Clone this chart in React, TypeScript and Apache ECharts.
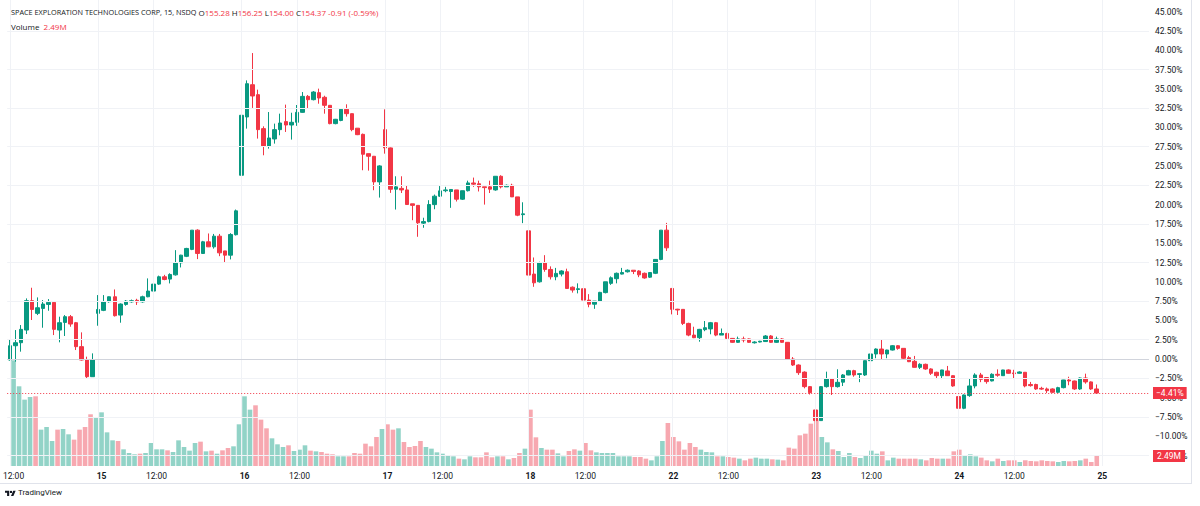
import React, { useEffect, useRef } from "react";
import * as echarts from "echarts";

// ---------- data ----------
const days = ["14", "15", "16", "17", "18", "22", "23", "24"];
const sessionTimes = [
  "09:30", "09:45", "10:00", "10:15", "10:30", "10:45", "11:00", "11:15", "11:30", "11:45",
  "12:00", "12:15", "12:30", "12:45", "13:00", "13:15", "13:30", "13:45", "14:00", "14:15",
  "14:30", "14:45", "15:00", "15:15", "15:30", "15:45",
];
const firstDayStart = "12:00";
const futureDay = "25";
const futureBars = 9;

// percent change vs. first bar (price scale in %)
const opens = [
  -0.13, 1.72, 2.11, 3.75, 7.55, 5.91, 6.55, 7.07, 7.33, 3.75, 4.74, 5.48, 4.7, 1.6, -0.13, -2.29,
  5.91, 6.3, 7.42, 8.06, 5.69, 7.07, 7.4, 7.6, 7.4, 8.06, 8.8, 9.7, 10.65, 10.35, 10.9, 12.46, 13.3, 14.2, 16.69, 13.67, 15.18, 14.53, 15.91, 14.0, 13.45, 16.1,
  23.8, 31.35, 35.53, 34.24, 29.84, 27.6, 28.5, 29.71, 30.75, 30.31, 30.66, 31.95, 34.02, 33.59, 34.5, 33.9, 32.86, 30.49, 30.9, 32.34, 31.78, 29.9, 29.1, 26.6, 26.26, 22.94,
  29.71, 27.34, 22.0, 22.1, 21.9, 20.1, 19.9, 17.6, 17.8, 20.0, 21.09, 21.8, 21.7, 21.9, 20.7, 21.8, 22.8, 22.7, 22.3, 22.3, 21.9, 23.67, 22.3, 22.5, 21.0, 18.7,
  16.6, 11.0, 10.0, 12.46, 11.6, 10.65, 11.0, 11.3, 9.3, 9.0, 9.1, 7.63, 7.1, 7.5, 8.6, 9.8, 10.4, 11.0, 11.3, 11.5, 11.4, 11.1, 10.6, 11.1, 12.9, 16.69,
  9.14, 6.45, 6.43, 4.61, 3.1, 2.76, 3.8, 3.9, 4.7, 3.1, 3.3, 2.67, 2.16, 2.6, 2.6, 2.1, 2.2, 2.26, 2.98, 2.16, 2.6, 2.16, 0.0, -0.78, -1.7, -3.58,
  -6.6, -7.98, -3.58, -2.59, -3.58, -3.0, -2.07, -1.51, -2.0, -2.07, -0.22, 0.65, 1.29, 0.65, 1.16, 1.72, 1.38, 0.17, -0.3, -1.08, -0.69, -1.29, -1.72, -2.16, -1.55, -2.16,
  -4.87, -6.38, -4.74, -3.49, -2.07, -2.4, -2.84, -1.98, -2.16, -1.42, -1.8, -1.85, -1.72, -3.3, -3.3, -3.8, -3.88, -3.88, -4.31, -3.71, -2.72, -2.85, -3.88, -2.46, -2.97, -3.88,
];
const closes = [
  1.72, 2.11, 3.84, 7.55, 6.42, 6.64, 7.12, 7.33, 3.84, 4.7, 5.48, 4.53, 1.6, -0.13, -2.29, -0.13,
  6.42, 7.42, 8.06, 5.61, 7.12, 7.5, 7.55, 7.4, 8.06, 8.8, 9.7, 10.65, 10.3, 10.95, 12.46, 13.45, 14.32, 16.69, 13.67, 15.18, 14.53, 15.91, 13.75, 13.45, 16.13, 19.19,
  31.57, 35.66, 34.07, 29.71, 27.6, 28.63, 29.71, 30.57, 30.31, 30.66, 31.95, 34.02, 33.59, 34.58, 33.81, 32.86, 30.49, 31.05, 32.34, 31.78, 29.71, 29.06, 26.52, 26.26, 22.94, 25.01,
  27.34, 21.99, 22.3, 21.9, 20.01, 19.9, 17.64, 17.8, 20.01, 21.09, 21.78, 21.9, 21.96, 20.7, 21.8, 22.81, 22.65, 22.3, 22.2, 22.0, 23.67, 22.3, 22.5, 21.0, 18.63, 18.8,
  10.87, 9.87, 12.46, 11.6, 10.65, 11.09, 11.4, 9.14, 8.93, 9.1, 7.63, 7.1, 7.5, 8.63, 10.0, 10.52, 11.1, 11.2, 11.5, 11.35, 10.9, 10.5, 11.2, 12.9, 16.69, 14.4,
  6.43, 6.35, 4.61, 3.1, 2.76, 3.84, 4.05, 4.7, 3.1, 3.3, 2.67, 2.16, 2.6, 2.46, 2.16, 2.2, 2.3, 2.98, 2.16, 2.6, 2.16, 0.0, -0.78, -1.77, -3.58, -4.36,
  -7.98, -3.58, -2.59, -3.58, -3.02, -2.07, -1.51, -2.07, -1.9, -0.22, 0.65, 1.29, 0.65, 1.16, 1.72, 1.38, 0.09, -0.35, -1.08, -0.69, -1.29, -1.85, -2.16, -1.42, -2.16, -3.49,
  -6.38, -4.66, -3.49, -2.07, -2.63, -2.93, -1.98, -2.1, -1.42, -1.85, -1.9, -1.68, -3.49, -3.45, -3.88, -3.9, -4.1, -4.31, -3.71, -2.72, -2.85, -3.88, -2.46, -2.97, -3.88, -4.41,
];
const lows = [
  -0.2, -0.35, 0.95, 3.23, 5.05, 5.69, 4.05, 6.25, 3.1, 2.16, 2.98, 4.18, 1.16, -0.2, -2.5, -2.3,
  4.31, 6.2, 7.3, 5.5, 4.7, 6.9, 7.3, 7.0, 7.3, 8.0, 7.63, 9.6, 10.2, 9.79, 10.8, 11.86, 13.2, 14.1, 12.94, 13.6, 14.5, 14.3, 13.32, 12.5, 12.9, 16.0,
  23.7, 29.84, 32.52, 28.55, 26.39, 27.25, 27.9, 28.98, 29.41, 28.42, 30.2, 31.9, 32.43, 33.5, 33.07, 31.78, 30.4, 30.4, 30.8, 31.4, 29.5, 29.0, 24.45, 24.4, 21.86, 20.91,
  26.6, 21.52, 19.36, 21.5, 20.0, 17.98, 15.83, 17.0, 17.7, 19.4, 21.0, 21.6, 19.58, 20.4, 20.6, 21.7, 22.3, 21.7, 20.0, 21.5, 21.8, 22.1, 22.3, 21.0, 18.5, 17.6,
  10.0, 9.35, 9.9, 11.3, 10.3, 10.2, 10.7, 9.1, 8.6, 8.5, 6.77, 6.7, 6.5, 7.4, 8.5, 9.6, 9.8, 10.95, 11.2, 11.0, 10.6, 10.4, 10.5, 11.0, 12.8, 14.0,
  5.78, 5.7, 4.4, 2.95, 2.7, 2.24, 3.6, 3.2, 2.95, 3.1, 2.6, 2.1, 2.1, 2.16, 2.1, 2.0, 2.15, 2.2, 2.1, 2.1, 2.1, -0.1, -0.9, -2.06, -3.8, -4.6,
  -8.76, -8.0, -3.7, -4.66, -3.7, -3.5, -2.1, -2.3, -3.0, -2.2, -0.8, 0.1, 0.0, 0.1, 1.1, 1.2, 0.0, -0.4, -1.1, -1.3, -1.4, -2.07, -2.6, -2.6, -2.2, -3.6,
  -6.69, -6.5, -4.9, -3.8, -3.0, -3.2, -2.9, -2.3, -2.2, -1.9, -2.6, -1.9, -3.67, -3.58, -4.0, -4.0, -4.4, -4.4, -4.4, -3.8, -3.4, -4.0, -4.0, -3.2, -4.0, -4.5,
];
const highs = [
  2.46, 3.75, 4.4, 7.85, 9.23, 7.98, 7.63, 7.76, 7.4, 5.48, 5.69, 5.7, 4.8, 3.45, 0.3, 0.73,
  8.28, 8.28, 8.1, 9.01, 7.2, 7.63, 7.7, 7.8, 8.2, 10.44, 9.75, 10.8, 10.9, 11.1, 14.1, 13.5, 14.4, 16.7, 16.8, 15.3, 16.26, 16.2, 16.2, 14.0, 16.3, 19.36,
  32.86, 36.09, 39.63, 34.89, 30.14, 31.99, 30.49, 31.78, 32.95, 31.9, 32.9, 34.58, 34.2, 34.7, 35.02, 34.1, 32.9, 31.1, 32.4, 32.99, 31.8, 29.9, 29.2, 26.6, 26.3, 25.1,
  32.34, 27.4, 23.67, 23.67, 22.5, 20.1, 19.9, 18.3, 20.57, 21.3, 22.4, 22.3, 22.0, 21.9, 21.8, 23.1, 23.5, 23.1, 22.3, 23.1, 23.7, 23.8, 22.6, 22.7, 21.0, 20.3,
  16.6, 13.15, 12.6, 13.45, 12.0, 11.8, 11.5, 11.7, 9.4, 9.8, 9.2, 8.4, 7.5, 8.7, 10.0, 10.7, 11.2, 11.8, 11.6, 11.5, 11.5, 11.2, 11.2, 12.95, 16.7, 17.63,
  9.2, 6.5, 6.43, 4.7, 4.18, 3.9, 4.92, 4.8, 4.8, 3.95, 3.4, 2.7, 2.9, 2.9, 2.65, 2.3, 2.35, 3.1, 3.1, 2.9, 2.7, 2.2, 0.25, -0.7, -1.6, -3.5,
  -4.44, -3.5, -1.64, -2.5, -1.33, -1.95, -1.4, -1.4, -1.85, -0.2, 1.38, 1.38, 2.46, 1.2, 1.8, 1.8, 1.4, 0.4, 0.4, -0.55, -0.6, -1.2, -1.65, -1.4, -0.9, -2.1,
  -3.36, -4.6, -2.5, -1.85, -1.8, -2.4, -1.85, -1.34, -1.4, -1.34, -1.4, -1.6, -1.7, -2.97, -3.2, -3.6, -3.7, -3.8, -3.6, -2.7, -2.3, -2.8, -2.4, -1.9, -2.9, -3.3,
];
// volume in millions
const volumes = [
  26.31, 19.84, 16.52, 17.18, 17.35, 9.05, 9.71, 6.23, 9.05, 9.21, 7.89, 6.56, 9.05, 9.71, 12.87, 12.04,
  13.36, 8.38, 6.39, 6.23, 4.15, 3.24, 2.91, 3.07, 3.24, 5.73, 4.15, 4.15, 3.9, 3.49, 6.39, 4.73, 3.82, 5.73, 6.06, 3.65, 3.82, 3.07, 3.9, 4.48, 4.9, 10.38,
  17.35, 14.03, 15.11, 11.54, 9.38, 6.89, 5.4, 4.73, 5.15, 3.74, 4.07, 5.15, 3.82, 3.65, 3.49, 3.07, 2.91, 2.41, 2.41, 2.41, 3.24, 3.07, 5.56, 4.9, 7.22, 9.21,
  10.38, 9.05, 9.38, 5.98, 4.73, 4.98, 6.23, 4.73, 4.32, 3.4, 3.07, 2.66, 2.41, 1.83, 1.66, 2.41, 2.16, 2.16, 3.4, 2.16, 2.41, 2.41, 1.66, 1.99, 3.24, 4.32,
  14.03, 7.14, 4.48, 4.07, 4.07, 3.15, 2.41, 3.74, 4.15, 3.82, 5.73, 3.9, 3.4, 3.24, 3.24, 3.24, 2.41, 2.41, 2.41, 2.24, 2.24, 1.83, 1.41, 2.41, 6.23, 10.71,
  7.22, 6.14, 4.07, 5.73, 4.73, 4.07, 3.49, 3.4, 2.41, 2.41, 2.24, 2.08, 1.83, 1.41, 1.83, 2.08, 1.83, 1.83, 1.66, 1.58, 1.41, 4.57, 4.32, 7.64, 8.05, 10.54,
  11.54, 7.22, 5.89, 4.15, 3.74, 2.24, 3.24, 2.24, 1.99, 2.66, 3.82, 3.07, 3.65, 1.41, 2.08, 1.83, 1.83, 1.83, 1.83, 1.66, 1.41, 1.99, 1.83, 1.83, 1.83, 3.65,
  4.07, 2.66, 2.91, 2.41, 2.08, 1.41, 1.16, 1.83, 1.25, 1.41, 1.41, 1.0, 1.41, 1.25, 1.16, 1.41, 1.25, 1.16, 1.0, 1.25, 1.16, 1.25, 1.41, 1.83, 1.0, 2.49,
];

const priceAxis = { min: -12.5, max: 45, interval: 2.5 };
const priceGridLevels = [-12.5, -7.5, -2.5, 2.5, 7.5, 12.5, 17.5, 22.5, 27.5, 32.5, 37.5, 42.5];
const baseLevel = 0;
const lastPct = -4.41;
const lastVolume = 2.49;
const volumeAxisMax = 30;

const headerTitle = "SPACE EXPLORATION TECHNOLOGIES CORP, 15, NSDQ";
const headerKeys = ["O", "H", "L", "C"];
const headerValues = ["155.28", "156.25", "154.00", "154.37"];
const headerChange = "-0.91 (-0.59%)";

// ---------- helpers ----------
const UP = "#089981";
const DOWN = "#f23645";
const UP_VOL = "#92d3c7";
const DOWN_VOL = "#f7a8b0";
const TEXT = "#131722";
const FONT = "Roboto, 'Noto Sans', sans-serif";
const HFONT = "'Open Sans', Roboto, sans-serif";

const categories: string[] = [];
days.forEach((d, di) => {
  const times = di === 0 ? sessionTimes.slice(sessionTimes.indexOf(firstDayStart)) : sessionTimes;
  times.forEach((t) => categories.push(`${d} ${t}`));
});
for (let k = 0; k < futureBars; k++) categories.push(`${futureDay} ${sessionTimes[k]}`);

const isLabelCat = (c: string) => {
  const t = c.split(" ")[1];
  return t === sessionTimes[0] || t === "12:00";
};
const labelCats = categories.filter(isLabelCat);

const fmtPct = (v: number) => (v < 0 ? "−" : "") + Math.abs(v).toFixed(2) + "%";

const GRID_LEFT = 7.2;
const GRID_WIDTH = 1141.8;
const PRICE_TOP = 11.6;
const PRICE_HEIGHT = 443.9;
const VOL_BOTTOM = 466;
const VOL_HEIGHT = 120.5;

registerLogo();
function registerLogo() {
  try {
    const d = "M14 22H7V11H0V4h14v18zM28 22h-8l7.5-18h8L28 22zM20 4a4 4 0 1 1 0 8a4 4 0 1 1 0-8z";
    echarts.graphic.registerShape("tvlogo", echarts.graphic.extendPath(d, {}) as any);
  } catch (e) {
    /* ignore */
  }
}

export default function App() {
  const ref = useRef<HTMLDivElement>(null);

  useEffect(() => {
    if (!ref.current) return;
    const chart = echarts.init(ref.current, undefined, { renderer: "svg" });

    const candleData = opens.map((o, i) => [o, closes[i], lows[i], highs[i]]);
    const volData = volumes.map((v, i) => ({
      value: v,
      itemStyle: { color: closes[i] >= opens[i] ? UP_VOL : DOWN_VOL },
    }));

    const headerRich: any = {
      t: { fontSize: 7.3, fill: TEXT, fontFamily: HFONT },
      l: { fontSize: 8, fill: TEXT, fontFamily: HFONT },
      v: { fontSize: 8, fill: DOWN, fontFamily: HFONT },
      s: { fontSize: 8, fill: TEXT, fontFamily: HFONT },
    };
    const headerText =
      `{t|${headerTitle}}{s| }` +
      headerKeys.map((k, i) => `{l|${k}}{v|${headerValues[i]}}`).join("{s| }") +
      `{s| }{v|${headerChange}}`;

    const catAxisBase = {
      type: "category",
      data: categories,
      boundaryGap: true,
      axisLine: { show: false },
      axisTick: { show: false },
      splitLine: { show: false },
    };

    const option: any = {
      animation: false,
      backgroundColor: "#ffffff",
      textStyle: { fontFamily: FONT },
      grid: [
        { left: GRID_LEFT, width: GRID_WIDTH, top: PRICE_TOP, height: PRICE_HEIGHT },
        { left: GRID_LEFT, width: GRID_WIDTH, top: VOL_BOTTOM - VOL_HEIGHT, height: VOL_HEIGHT },
        { left: GRID_LEFT, width: GRID_WIDTH, top: 0, height: VOL_BOTTOM },
      ],
      xAxis: [
        { ...catAxisBase, gridIndex: 0, axisLabel: { show: false } },
        {
          ...catAxisBase,
          gridIndex: 1,
          axisLabel: {
            show: true,
            interval: (idx: number, val: string) => isLabelCat(val),
            hideOverlap: false,
            color: TEXT,
            fontSize: 8.5,
            margin: 5,
            formatter: (val: string) => {
              const [d, t] = val.split(" ");
              if (t === sessionTimes[0]) return `{day|${d}}`;
              if (t === "12:00") return t;
              return "";
            },
            rich: { day: { fontSize: 8.5, fontWeight: "bold", color: TEXT, fontFamily: FONT } },
          },
        },
        { ...catAxisBase, gridIndex: 2, axisLabel: { show: false } },
      ],
      yAxis: [
        {
          type: "value",
          gridIndex: 0,
          position: "right",
          min: priceAxis.min,
          max: priceAxis.max,
          interval: priceAxis.interval,
          axisLine: { show: false },
          axisTick: { show: false },
          splitLine: { show: false },
          axisLabel: {
            show: true,
            color: TEXT,
            fontSize: 8.5,
            margin: 6,
            showMinLabel: true,
            showMaxLabel: true,
            formatter: (v: number) => fmtPct(v),
          },
        },
        { type: "value", gridIndex: 1, min: 0, max: volumeAxisMax, show: false },
        { type: "value", gridIndex: 2, min: 0, max: 1, show: false },
      ],
      graphic: [
        {
          type: "text",
          left: 11,
          top: 8,
          z: 10,
          style: { text: headerText, rich: headerRich, fontFamily: HFONT, fontSize: 8, fill: TEXT },
        },
        {
          type: "text",
          left: 11,
          top: 22,
          z: 10,
          style: {
            text: `{s|Volume}{s|  }{v|${lastVolume}M}`,
            rich: headerRich,
            fontFamily: HFONT,
            fontSize: 8,
          },
        },
        {
          type: "line",
          shape: { x1: 1191.5, y1: 0, x2: 1191.5, y2: 484 },
          style: { stroke: "#e0e3eb", lineWidth: 1 },
        },
        {
          type: "line",
          shape: { x1: 0, y1: 483.5, x2: 1192, y2: 483.5 },
          style: { stroke: "#e0e3eb", lineWidth: 1 },
        },
        {
          type: "tvlogo",
          x: 5,
          y: 489.5,
          scaleX: 0.3,
          scaleY: 0.3,
          style: { fill: TEXT },
        },
        {
          type: "text",
          left: 18,
          top: 488,
          style: { text: "TradingView", fontFamily: FONT, fontSize: 8, fill: TEXT },
        },
      ],
      series: [
        {
          name: "vgrid",
          type: "line",
          xAxisIndex: 2,
          yAxisIndex: 2,
          data: [],
          z: 0,
          silent: true,
          markLine: {
            silent: true,
            symbol: ["none", "none"],
            label: { show: false },
            lineStyle: { color: "#f0f2f6", width: 1, type: "solid" },
            data: labelCats.map((c) => ({ xAxis: c })),
          },
        },
        {
          name: "hgrid",
          type: "line",
          xAxisIndex: 0,
          yAxisIndex: 0,
          data: [],
          z: 1,
          silent: true,
          markLine: {
            silent: true,
            symbol: ["none", "none"],
            label: { show: false },
            lineStyle: { color: "#f0f2f6", width: 1, type: "solid" },
            data: [
              ...priceGridLevels.map((v) => ({ yAxis: v })),
              { yAxis: baseLevel, lineStyle: { color: "#d1d4dc", width: 1, type: "solid" } },
            ],
          },
        },
        {
          name: "Volume",
          type: "bar",
          xAxisIndex: 1,
          yAxisIndex: 1,
          data: volData,
          barWidth: 4.6,
          z: 2,
        },
        {
          name: "Price",
          type: "candlestick",
          xAxisIndex: 0,
          yAxisIndex: 0,
          data: candleData,
          barWidth: 4,
          z: 3,
          itemStyle: {
            color: UP,
            color0: DOWN,
            borderColor: UP,
            borderColor0: DOWN,
            borderWidth: 1,
          },
          markLine: {
            silent: true,
            symbol: ["none", "none"],
            data: [{ yAxis: lastPct }],
            lineStyle: { color: DOWN, width: 1, type: [1, 2] },
            label: {
              show: true,
              position: "end",
              distance: 4,
              formatter: () => fmtPct(lastPct),
              backgroundColor: DOWN,
              color: "#ffffff",
              fontSize: 8.5,
              fontFamily: FONT,
              padding: [2, 3, 1, 3],
            },
          },
        },
        {
          name: "VolumeLast",
          type: "line",
          xAxisIndex: 1,
          yAxisIndex: 1,
          data: [],
          z: 5,
          silent: true,
          markLine: {
            silent: true,
            symbol: ["none", "none"],
            lineStyle: { color: "rgba(255,255,255,0)", width: 1 },
            data: [{ yAxis: lastVolume }],
            label: {
              show: true,
              position: "end",
              distance: 4,
              formatter: () => `${lastVolume}M`,
              backgroundColor: DOWN,
              color: "#ffffff",
              fontSize: 8.5,
              fontFamily: FONT,
              padding: [2, 4, 1, 4],
            },
          },
        },
      ],
    };

    chart.setOption(option);
    return () => chart.dispose();
  }, []);

  return (
    <div
      ref={ref}
      style={{ position: "fixed", left: 0, top: 0, width: 1200, height: 506, background: "#fff" }}
    />
  );
}
